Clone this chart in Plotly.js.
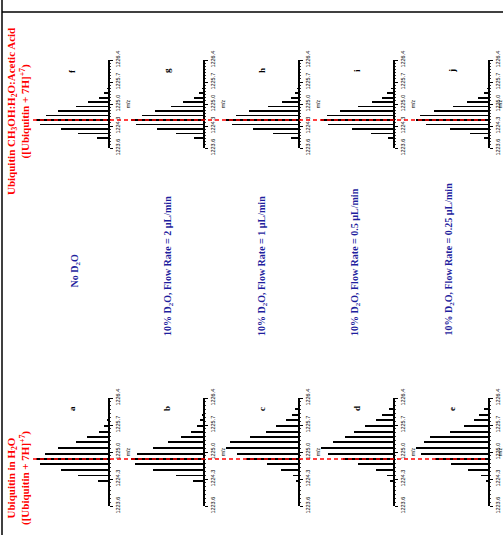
<!DOCTYPE html>
<html><head><meta charset="utf-8">
<script src="https://cdn.plot.ly/plotly-3.0.1.min.js"></script>
<style>html,body{margin:0;padding:0;background:#fff;}#chart{width:503px;height:535px;}</style>
</head><body><div id="chart"></div>
<script>
// ---- data ----
const panelLetters = ['a','b','c','d','e','f','g','h','i','j'];
// isotope peak positions (m/z) as read for each row
const isotopeMzBottom = [1224.25,1224.39,1224.53,1224.68,1224.82,1224.96,1225.11,1225.25,1225.39,1225.53,1225.68,1225.82,1225.96,1226.11];
const isotopeMzTop    = [1223.92,1224.06,1224.20,1224.35,1224.49,1224.63,1224.78,1224.92,1225.06,1225.20,1225.35,1225.49,1225.63,1225.78];
const intA = [0.14,0.41,0.65,0.95,1.00,0.88,0.70,0.44,0.29,0.12,0.05,0.02,0,0];
const intB = [0.14,0.37,0.70,0.95,1.00,0.91,0.70,0.49,0.31,0.16,0.08,0.04,0.01,0];
const intC = [0.03,0.07,0.24,0.43,0.72,0.85,1.00,0.94,0.66,0.44,0.31,0.17,0.09,0.04];
const intD = [0.04,0.09,0.24,0.48,0.70,0.90,1.00,0.83,0.66,0.54,0.39,0.24,0.15,0.06];
const intE = [0.03,0.10,0.28,0.51,0.74,0.93,1.00,0.89,0.80,0.53,0.34,0.19,0.12,0.05];
const intF = [0.15,0.42,0.65,0.95,1.00,0.86,0.69,0.44,0.28,0.12,0.05,0.02,0,0];
const intG = [0.12,0.38,0.64,0.93,1.00,0.84,0.66,0.44,0.28,0.12,0.06,0.02,0,0];
const intH = [0.10,0.35,0.62,0.92,1.00,0.86,0.68,0.41,0.22,0.10,0.04,0.02,0,0];
const intI = [0.07,0.30,0.57,0.90,1.00,0.92,0.73,0.48,0.29,0.15,0.08,0.03,0,0];
const intJ = [0.05,0.25,0.53,0.86,1.00,0.95,0.75,0.49,0.29,0.14,0.05,0.02,0,0];
const mzTicks = [1223.6,1224.3,1225.0,1225.7,1226.4];
const mzTickText = ['1223.6','1224.3','1225.0','1225.7','1226.4'];
const mzRange = [1223.6,1226.4];
const refLineMzBottom = 1224.82;
const refLineMzTop = 1224.49;
const conditionLabels = ['No D<sub>2</sub>O',
  '10% D<sub>2</sub>O, Flow Rate = 2 \u00b5L/min',
  '10% D<sub>2</sub>O, Flow Rate = 1 \u00b5L/min',
  '10% D<sub>2</sub>O, Flow Rate = 0.5 \u00b5L/min',
  '10% D<sub>2</sub>O, Flow Rate = 0.25 \u00b5L/min'];
const rowTitles = ['Ubiquitin in H<sub>2</sub>O<br>([Ubiquitin + 7H]<sup>+7</sup>)',
  'Ubiquitin CH<sub>3</sub>OH:H<sub>2</sub>O:Acetic Acid<br>([Ubiquitin + 7H]<sup>+7</sup>)'];
const allInt = [intA,intB,intC,intD,intE,intF,intG,intH,intI,intJ];

// ---- layout helpers ----
const W = 503, H = 535;
const fx = p => p / W;
const fy = p => 1 - p / H;
const serif = 'Liberation Serif, Times New Roman, serif';
const sans = 'Liberation Sans, Arial, sans-serif';

const traces = [];
const layout = {
  width: W, height: H, margin: {l:0,r:0,t:0,b:0},
  paper_bgcolor: '#fff', plot_bgcolor: 'rgba(0,0,0,0)',
  showlegend: false, bargap: 0,
  annotations: [], shapes: []
};

for (let p = 0; p < 10; p++) {
  const col = p % 5;
  const top = p >= 5;
  const base = 108 + 95 * col;
  const yTopPx = top ? 60 : 398;
  const yBotPx = top ? 148 : 506;
  const n = p + 1;
  const xa = n === 1 ? 'x' : 'x' + n;
  const ya = n === 1 ? 'y' : 'y' + n;
  traces.push({
    type: 'bar', orientation: 'h', x: allInt[p], y: top ? isotopeMzTop : isotopeMzBottom,
    width: 0.05,
    marker: {color: '#000', line: {width: 0}}, xaxis: xa, yaxis: ya, hoverinfo: 'skip'
  });
  layout['xaxis' + (n === 1 ? '' : n)] = {
    domain: [fx(base - 80), fx(base)], range: [1.11, 0], anchor: ya,
    visible: false, fixedrange: true
  };
  layout['yaxis' + (n === 1 ? '' : n)] = {
    domain: [fy(yBotPx), fy(yTopPx)], range: mzRange, anchor: xa, side: 'right',
    showline: true, linewidth: 1.6, linecolor: '#000', showgrid: false, zeroline: false,
    ticks: 'outside', ticklen: 3, tickwidth: 1, tickcolor: '#000',
    tickvals: mzTicks, ticktext: mzTickText, tickangle: -90, ticklabelstandoff: 1,
    tickfont: {family: sans, size: 5.5, color: '#000'},
    minor: {ticks: 'outside', dtick: 0.1, ticklen: 1.5, tickwidth: 0.8, tickcolor: '#000', showgrid: false},
    title: {text: 'm/z', font: {family: sans, size: 5, color: '#000'}, standoff: 6},
    fixedrange: true
  };
  layout.annotations.push({
    xref: 'paper', yref: 'paper', x: fx(base - 36), y: fy(yTopPx + 11),
    text: '<b>' + panelLetters[p] + '</b>', textangle: -90, showarrow: false,
    font: {family: serif, size: 9, color: '#000'}, xanchor: 'center', yanchor: 'middle'
  });
}

// condition labels (blue, middle)
const condX = [75, 168, 262, 355, 449];
const condBottom = [290, 338, 338, 338, 338];
conditionLabels.forEach((t, i) => {
  layout.annotations.push({
    xref: 'paper', yref: 'paper', x: fx(condX[i]), y: fy(condBottom[i]),
    text: '<b>' + t + '</b>', textangle: -90, showarrow: false,
    font: {family: serif, size: 10, color: '#1f1f9e'}, xanchor: 'center', yanchor: 'bottom'
  });
});

// row titles (red)
const rowTitleY = [478, 112];
rowTitles.forEach((t, i) => {
  layout.annotations.push({
    xref: 'paper', yref: 'paper', x: fx(18), y: fy(rowTitleY[i]),
    text: '<b>' + t + '</b>', textangle: -90, showarrow: false,
    font: {family: serif, size: 11, color: '#ff0000'}, xanchor: 'center', yanchor: 'middle'
  });
});

// red dashed reference lines (one per row), frame lines
layout.shapes.push({type: 'line', xref: 'paper', yref: 'y', x0: fx(33), x1: fx(486), y0: refLineMzBottom, y1: refLineMzBottom,
  line: {color: '#ff0000', width: 1.5, dash: '4px,3px'}, layer: 'above'});
layout.shapes.push({type: 'line', xref: 'paper', yref: 'y6', x0: fx(33), x1: fx(486), y0: refLineMzTop, y1: refLineMzTop,
  line: {color: '#ff0000', width: 1.5, dash: '4px,3px'}, layer: 'above'});
layout.shapes.push({type: 'line', xref: 'paper', yref: 'paper', x0: fx(2), x1: fx(2), y0: 0, y1: 1,
  line: {color: '#000', width: 1.5}});
layout.shapes.push({type: 'line', xref: 'paper', yref: 'paper', x0: fx(2), x1: 1, y0: fy(12), y1: fy(12),
  line: {color: '#000', width: 1.5}});

Plotly.newPlot('chart', traces, layout, {staticPlot: true, displayModeBar: false});
</script>
</body></html>
